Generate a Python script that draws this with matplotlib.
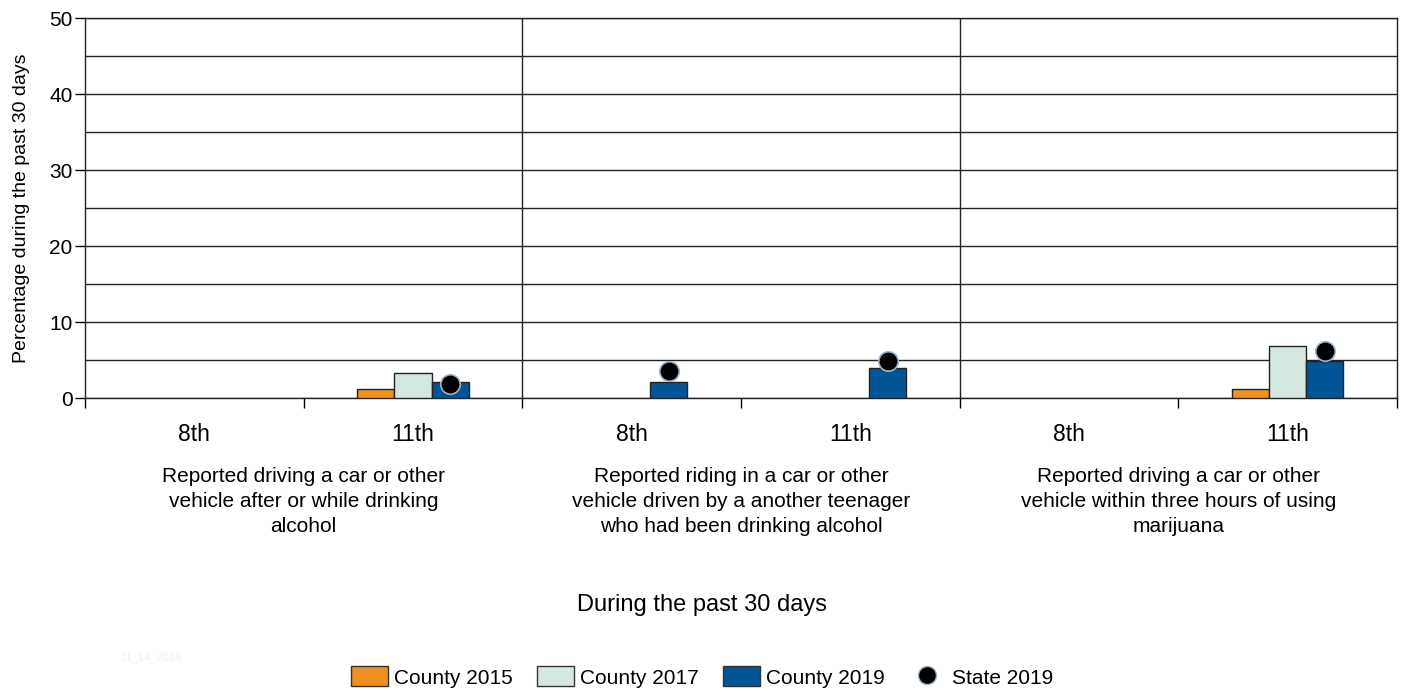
import numpy as np
import matplotlib.pyplot as plt
from matplotlib.lines import Line2D
from matplotlib.patches import Patch

plt.rcParams['font.family'] = ['Liberation Sans', 'DejaVu Sans']

# data (None = no bar)
grades = ["8th", "11th", "8th", "11th", "8th", "11th"]
group_labels = [
    "Reported driving a car or other\nvehicle after or while drinking\nalcohol",
    "Reported riding in a car or other\nvehicle driven by a another teenager\nwho had been drinking alcohol",
    "Reported driving a car or other\nvehicle within three hours of using\nmarijuana",
]
county_2015 = [None, 1.2, None, None, None, 1.2]
county_2017 = [None, 3.3, None, None, None, 6.8]
county_2019 = [None, 2.1, 2.1, 4.0, None, 4.9]
state_2019 = [None, 1.8, 3.6, 4.9, None, 6.2]

colors = {"2015": "#F0901E", "2017": "#D5E8DF", "2019": "#005596"}

fig = plt.figure(figsize=(14.04, 6.92), dpi=100)
ax = fig.add_axes([85 / 1404, 1 - 398 / 692, (1397 - 85) / 1404, (398 - 18) / 692])

x = np.arange(len(grades))
w = 0.17

def draw_bars(vals, offset, color):
    for xi, v in zip(x, vals):
        if v is not None:
            ax.bar(xi + offset, v, width=w, color=color, edgecolor="#222222",
                   linewidth=1.0, zorder=3)

draw_bars(county_2015, -w, colors["2015"])
draw_bars(county_2017, 0, colors["2017"])
draw_bars(county_2019, w, colors["2019"])

for xi, v in zip(x, state_2019):
    if v is not None:
        ax.plot(xi + w, v, "o", ms=14, color="black", markeredgecolor="#9db3cf",
                markeredgewidth=1.2, zorder=4)

ax.set_xlim(-0.5, 5.5)
ax.set_ylim(0, 50)
ax.set_yticks(range(0, 51, 10))
ax.set_yticks(range(5, 50, 10), minor=True)
ax.tick_params(axis="y", which="major", length=7, width=1, labelsize=15, colors="black",
               pad=2)
ax.tick_params(axis="y", which="minor", length=0)
ax.grid(axis="y", which="both", color="#222222", linewidth=1.0, zorder=1)

# x ticks between categories
ax.set_xticks(np.arange(-0.5, 6, 1))
ax.set_xticklabels([])
ax.tick_params(axis="x", length=7, width=1)
for xi, g in zip(x, grades):
    ax.text(xi, -3.3, g, ha="center", va="top", fontsize=16.5)

for i, lab in enumerate(group_labels):
    ax.text(2 * i + 0.5, -9.1, lab, ha="center", va="top", fontsize=15,
            linespacing=1.41)

for xv in [1.5, 3.5]:
    ax.axvline(xv, color="#222222", linewidth=1.0, zorder=2)

for s in ax.spines.values():
    s.set_color("#222222")
    s.set_linewidth(1.0)

ax.set_ylabel("Percentage during the past 30 days", fontsize=14, labelpad=14)

fig.text(0.5, 1 - 605 / 692, "During the past 30 days", ha="center", va="center",
         fontsize=17)
fig.text(120 / 1404, 1 - 657 / 692, "11_14_2019", ha="left", va="center",
         fontsize=8, color="#f2f2f2")

handles = [
    Patch(facecolor=colors["2015"], edgecolor="#333333", label="County 2015"),
    Patch(facecolor=colors["2017"], edgecolor="#333333", label="County 2017"),
    Patch(facecolor=colors["2019"], edgecolor="#333333", label="County 2019"),
    Line2D([], [], marker="o", ls="", ms=13, color="black",
           markeredgecolor="#9db3cf", label="State 2019"),
]
fig.legend(handles=handles, loc="center", bbox_to_anchor=(0.5, 1 - 677 / 692),
           ncol=4, frameon=False, fontsize=15, handlelength=1.78, handleheight=1.1,
           columnspacing=1.15, handletextpad=0.3)

fig.savefig("out.png", dpi=100)
